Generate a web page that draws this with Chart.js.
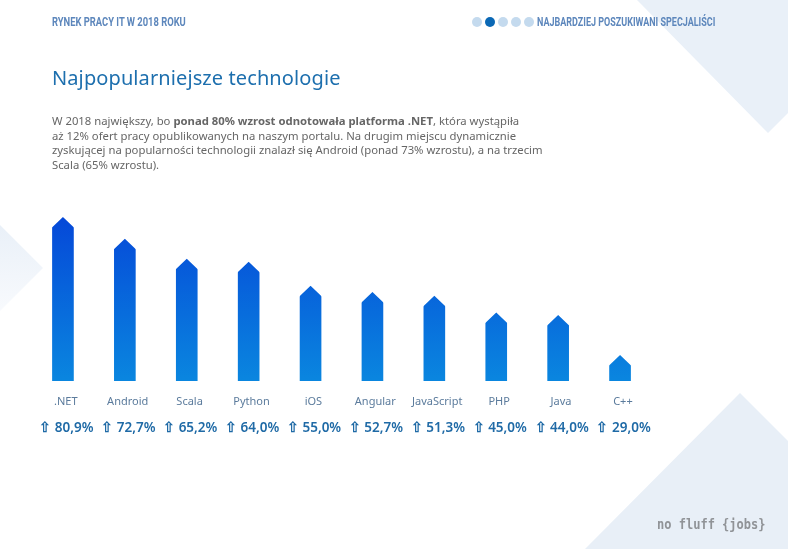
<!DOCTYPE html>
<html lang="pl"><head><meta charset="utf-8">
<script src="https://cdn.jsdelivr.net/npm/chart.js@4"></script>
<style>
html,body{margin:0;padding:0;background:#fff;width:788px;height:549px;overflow:hidden}
body{position:relative;font-family:"Noto Sans",sans-serif}
.bg{position:absolute;left:0;top:0}
#wrap{position:absolute;left:0;top:0;width:788px;height:549px}
.abs{position:absolute;white-space:nowrap}
.hd{font-family:"Roboto",sans-serif;font-weight:700;font-size:12.5px;color:#5d87bc;line-height:14px;top:15px;transform-origin:left center}
#title{left:52px;top:63px;font-size:20px;line-height:30px;color:#1d6fae;letter-spacing:.1px}
#para{left:52px;top:114px;font-size:11.3px;line-height:14.7px;color:#666}
.dot{position:absolute;top:17px;width:10px;height:10px;border-radius:50%;background:#c4daee}
#logo{left:657px;top:515px;font-family:"DejaVu Sans Mono",monospace;font-size:13.5px;line-height:18px;color:#909397;font-weight:700;transform:scaleX(.89);transform-origin:left center}
</style></head><body>
<svg class="bg" width="788" height="549">
<defs><linearGradient id="lf" x1="0" y1="0" x2="0" y2="1"><stop offset="0" stop-color="#e9f0f8"/><stop offset="1" stop-color="#f8fafd"/></linearGradient></defs>
<polygon points="637,0 768,133 788,113 788,0" fill="#e9f0f8"/>
<polygon points="0,225 43,268 0,311" fill="url(#lf)"/>
<polygon points="740,393 788,441 788,549 585,549" fill="#e8eff7"/>
</svg>
<div id="wrap"><canvas id="c" width="788" height="549"></canvas></div>
<div class="abs hd" style="left:52px;transform:scaleX(.75)">RYNEK PRACY IT W 2018 ROKU</div>
<div class="dot" style="left:472px"></div>
<div class="dot" style="left:485px;background:#0a68b5"></div>
<div class="dot" style="left:498px"></div>
<div class="dot" style="left:511px"></div>
<div class="dot" style="left:524px"></div>
<div class="abs hd" style="left:537px;transform:scaleX(.72)">NAJBARDZIEJ POSZUKIWANI SPECJALIŚCI</div>
<div class="abs" id="title">Najpopularniejsze technologie</div>
<div class="abs" id="para">W 2018 największy, bo <b>ponad 80% wzrost odnotowała platforma .NET</b>, która wystąpiła<br>aż 12% ofert pracy opublikowanych na naszym portalu. Na drugim miejscu dynamicznie<br>zyskującej na popularności technologii znalazł się Android (ponad 73% wzrostu), a na trzecim<br>Scala (65% wzrostu).</div>
<div class="abs" id="logo">no fluff {jobs}</div>
<script>
const categories = [".NET","Android","Scala","Python","iOS","Angular","JavaScript","PHP","Java","C++"];
const growth = [80.9,72.7,65.2,64.0,55.0,52.7,51.3,45.0,44.0,29.0];
const growthLabels = ["⇧ 80,9%","⇧ 72,7%","⇧ 65,2%","⇧ 64,0%","⇧ 55,0%","⇧ 52,7%","⇧ 51,3%","⇧ 45,0%","⇧ 44,0%","⇧ 29,0%"];
const axisMin = 19.2, axisMax = 85;

// Cuts each library-drawn bar to an arrow shape, using the bar's own geometry.
const arrowClip = {
  id:'arrowClip',
  beforeDatasetDraw(chart){
    const ctx = chart.ctx; ctx.save(); ctx.beginPath();
    chart.getDatasetMeta(0).data.forEach(b=>{
      const w = b.width/2, s = 10;
      ctx.moveTo(b.x-w-1,b.base+1);
      ctx.lineTo(b.x-w-1,b.y+s+1);
      ctx.lineTo(b.x,b.y);
      ctx.lineTo(b.x+w+1,b.y+s+1);
      ctx.lineTo(b.x+w+1,b.base+1);
      ctx.closePath();
    });
    ctx.clip();
  },
  afterDatasetDraw(chart){ chart.ctx.restore(); }
};

new Chart(document.getElementById('c'),{
  type:'bar',
  data:{labels:categories,datasets:[{
    data:growth,xAxisID:'x',yAxisID:'y',barThickness:21,
    backgroundColor(c){
      const a=c.chart.chartArea; if(!a) return '#0a6ad8';
      const g=c.chart.ctx.createLinearGradient(0,217,0,a.bottom);
      g.addColorStop(0,'#0548d8'); g.addColorStop(1,'#0a86df'); return g;
    }
  }]},
  plugins:[arrowClip],
  options:{
    responsive:false,animation:false,devicePixelRatio:1,
    layout:{padding:{left:32,right:137,top:206,bottom:109}},
    plugins:{legend:{display:false},tooltip:{enabled:false},title:{display:false}},
    scales:{
      y:{display:false,min:axisMin,max:axisMax},
      x:{position:'bottom',grid:{display:false},border:{display:false},
        afterFit(s){s.height=27},
        ticks:{autoSkip:false,maxRotation:0,padding:6,color:'#5b7b9c',
          callback(v,i){return '\u00a0\u00a0'+categories[i]},
          font:{family:'"Noto Sans"',size:11}}},
      x2:{type:'category',labels:growthLabels,position:'bottom',grid:{display:false},border:{display:false},
        afterFit(s){s.height=32},
        ticks:{autoSkip:false,maxRotation:0,padding:4,color:'#1f6aa6',
          callback(v,i){return '\u00a0\u00a0'+growthLabels[i]},
          font:{family:'"Noto Sans"',size:13.5,weight:'600'}}}
    }
  }
});
</script>
</body></html>
